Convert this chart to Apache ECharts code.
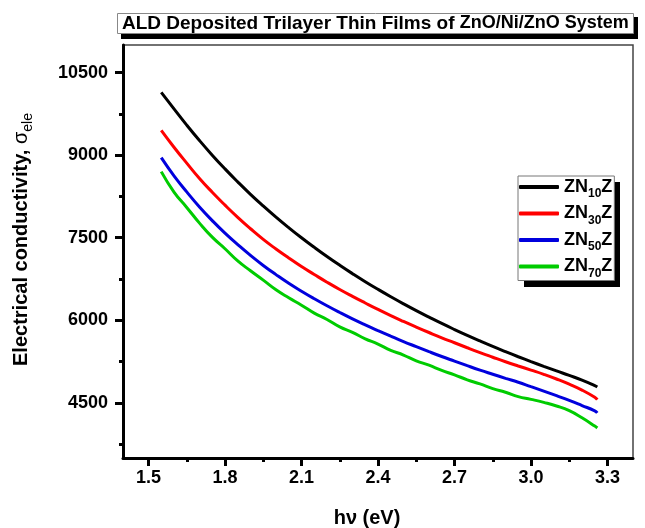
<!DOCTYPE html>
<html><head><meta charset="utf-8">
<script src="https://cdn.jsdelivr.net/npm/echarts@6/dist/echarts.min.js"></script>
<style>html,body{margin:0;padding:0;background:#fff}#c{width:645px;height:528px}</style>
</head><body><div id="c"></div>
<script>
const hv = [1.55,1.60,1.65,1.70,1.75,1.80,1.85,1.90,1.95,2.00,2.05,2.10,2.15,2.20,2.25,2.30,2.35,2.40,2.45,2.50,2.55,2.60,2.65,2.70,2.75,2.80,2.85,2.90,2.95,3.00,3.05,3.10,3.15,3.20,3.25,3.26];
const zn10 = [10140,9840,9545,9265,9000,8750,8514,8289,8077,7875,7683,7500,7326,7159,7000,6848,6702,6563,6429,6300,6176,6058,5943,5833,5727,5625,5526,5431,5339,5250,5164,5081,5000,4915,4815,4790];
const zn30 = [9450,9144,8855,8576,8326,8092,7870,7663,7469,7295,7132,6976,6833,6693,6560,6435,6315,6198,6086,5980,5878,5779,5683,5593,5502,5414,5330,5248,5171,5097,5020,4935,4841,4734,4603,4560];
const zn50 = [8955,8625,8333,8059,7811,7583,7376,7179,6997,6830,6673,6529,6393,6264,6142,6026,5917,5813,5712,5614,5522,5431,5343,5259,5176,5096,5021,4947,4875,4795,4715,4632,4546,4453,4357,4320];
const zn70 = [8700,8330,8050,7765,7510,7300,7080,6900,6730,6555,6410,6275,6130,6015,5880,5780,5665,5570,5455,5370,5265,5185,5090,5010,4920,4845,4760,4695,4615,4565,4510,4445,4360,4230,4080,4045];
const seriesNames = ['{a|ZN}{b|10}{a|Z}','{a|ZN}{b|30}{a|Z}','{a|ZN}{b|50}{a|Z}','{a|ZN}{b|70}{a|Z}'];
const seriesColors = ['#000000','#ff0000','#0000dd','#00cc00'];
const yTicks = [4500,6000,7500,9000,10500];
const yMinor = [3750,5250,6750,8250,9750];
const xTicks = [1.5,1.8,2.1,2.4,2.7,3.0,3.3];
const xMinor = [1.65,1.95,2.25,2.55,2.85,3.15];

const FONT = 'Liberation Sans, Arial, sans-serif';
const chart = echarts.init(document.getElementById('c'), null, {renderer:'canvas'});
const allData = [zn10, zn30, zn50, zn70];
const series = allData.map((arr, i) => ({
  name: seriesNames[i], type: 'line', xAxisIndex: 0, yAxisIndex: 0,
  data: hv.map((x, j) => [x, arr[j]]),
  showSymbol: false, smooth: true,
  lineStyle: {width: 3, color: seriesColors[i]}, itemStyle: {color: seriesColors[i]},
  z: 5 - i
}));
chart.setOption({
  animation: false,
  backgroundColor: '#fff',
  title: {
    text: '{a|ALD Deposited Trilayer Thin Films of }{b|ZnO/Ni/ZnO System}',
    left: 117, top: 12, padding: [1, 5, 1, 5],
    backgroundColor: '#fff', borderColor: '#888', borderWidth: 1,
    textStyle: { rich: {
      a: {fontFamily: FONT, fontWeight: 'bold', fontSize: 19, color: '#000', lineHeight: 21},
      b: {fontFamily: FONT, fontWeight: 'bold', fontSize: 18, color: '#000', lineHeight: 21}
    }}
  },
  graphic: [
    {type: 'rect', shape: {x: 121, y: 17, width: 517, height: 22}, style: {fill: '#000'}, z: 0},
    {type: 'rect', shape: {x: 524, y: 182, width: 96, height: 105}, style: {fill: '#000'}, z: 0}
  ],
  legend: {
    orient: 'vertical', left: 518, top: 176,
    padding: [2, 2, 1, 1], itemGap: 4.5,
    backgroundColor: '#fff', borderColor: '#777', borderWidth: 1,
    icon: 'roundRect', itemWidth: 40, itemHeight: 4,
    selectedMode: false,
    textStyle: { rich: {
      a: {fontFamily: FONT, fontWeight: 'bold', fontSize: 18, color: '#000', lineHeight: 26, verticalAlign: 'middle'},
      b: {fontFamily: FONT, fontWeight: 'bold', fontSize: 12, color: '#000', lineHeight: 12, verticalAlign: 'bottom'}
    }},
    data: seriesNames
  },
  grid: {left: 123, right: 12, top: 45, bottom: 70, outerBoundsMode: 'none', containLabel: false,
    show: true, borderColor: '#444', borderWidth: 1.5, backgroundColor: 'transparent'},
  xAxis: [{
    type: 'value', min: 1.4, max: 3.4, position: 'bottom',
    axisLine: {show: true, onZero: false, lineStyle: {color: '#000', width: 3}},
    axisTick: {show: true, customValues: xTicks, length: 8, lineStyle: {color: '#000', width: 3}},
    axisLabel: {customValues: xTicks, margin: 11, formatter: v => v.toFixed(1), fontFamily: FONT, fontWeight: 'bold', fontSize: 18, color: '#000'},
    splitLine: {show: false},
    name: 'hν (eV)', nameLocation: 'middle', nameGap: 50,
    nameTextStyle: {fontFamily: FONT, fontWeight: 'bold', fontSize: 20, color: '#000', padding: [0, 22, 0, 0]}
  }, {
    type: 'value', min: 1.4, max: 3.4, position: 'bottom',
    axisLine: {show: false},
    axisTick: {show: true, customValues: xMinor, length: 4, lineStyle: {color: '#000', width: 3}},
    axisLabel: {show: false}, splitLine: {show: false}
  }],
  yAxis: [{
    type: 'value', min: 3500, max: 11000, position: 'left',
    axisLine: {show: true, onZero: false, lineStyle: {color: '#000', width: 3}},
    axisTick: {show: true, customValues: yTicks, length: 8, lineStyle: {color: '#000', width: 3}},
    axisLabel: {customValues: yTicks, margin: 15, formatter: v => String(v), fontFamily: FONT, fontWeight: 'bold', fontSize: 18, color: '#000'},
    splitLine: {show: false},
    name: '{a|Electrical conductivity, }{g|σ}{s|ele}', nameLocation: 'middle', nameGap: 88, nameRotate: 90,
    nameTextStyle: {padding: [0, 0, 0, 24], rich: {
      a: {fontFamily: FONT, fontWeight: 'bold', fontSize: 20, color: '#000', lineHeight: 28, verticalAlign: 'middle'},
      g: {fontFamily: FONT, fontWeight: 'normal', fontSize: 20, color: '#000', lineHeight: 28, verticalAlign: 'middle'},
      s: {fontFamily: FONT, fontWeight: 'normal', fontSize: 14, color: '#000', lineHeight: 14, verticalAlign: 'bottom'}
    }}
  }, {
    type: 'value', min: 3500, max: 11000, position: 'left', offset: 0,
    axisLine: {show: false},
    axisTick: {show: true, customValues: yMinor, length: 4, lineStyle: {color: '#000', width: 3}},
    axisLabel: {show: false}, splitLine: {show: false}
  }],
  series: series
});
</script></body></html>
